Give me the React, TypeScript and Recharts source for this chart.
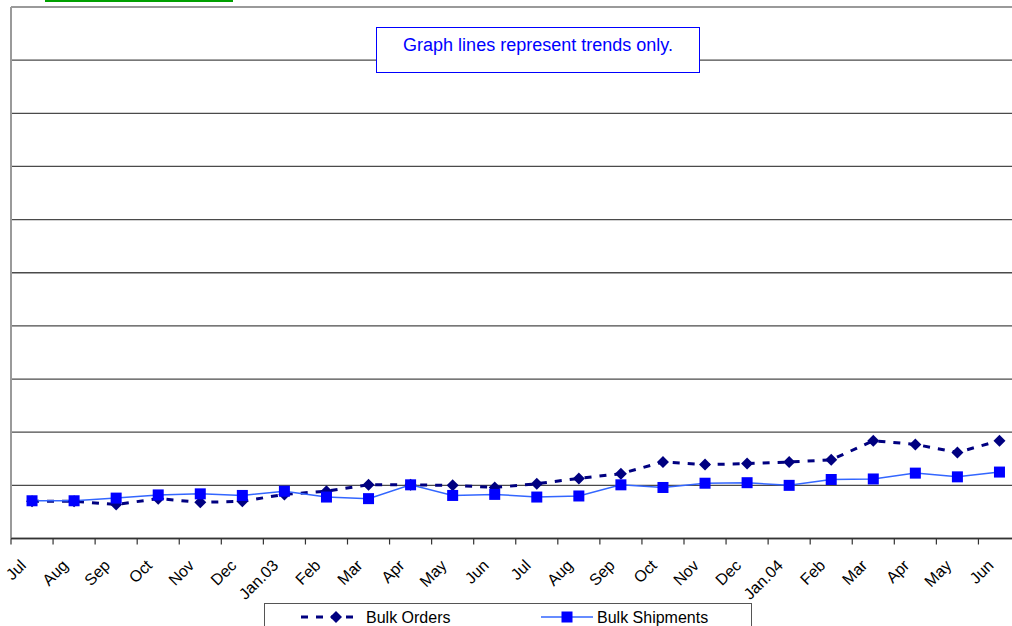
import React from "react";
import { LineChart, Line, XAxis, YAxis, CartesianGrid, ReferenceLine } from "recharts";

const months = [
  "Jul", "Aug", "Sep", "Oct", "Nov", "Dec", "Jan.03", "Feb", "Mar", "Apr", "May", "Jun",
  "Jul", "Aug", "Sep", "Oct", "Nov", "Dec", "Jan.04", "Feb", "Mar", "Apr", "May", "Jun",
];
const bulkOrders = [
  0.7, 0.7, 0.64, 0.75, 0.68, 0.7, 0.83, 0.89, 1.01, 1.01, 1.0, 0.96,
  1.03, 1.13, 1.22, 1.44, 1.39, 1.41, 1.44, 1.48, 1.84, 1.77, 1.62, 1.84,
];
const bulkShipments = [
  0.71, 0.71, 0.76, 0.82, 0.84, 0.81, 0.89, 0.78, 0.75, 1.01, 0.81, 0.83,
  0.78, 0.8, 1.01, 0.96, 1.04, 1.05, 1.0, 1.11, 1.12, 1.23, 1.16, 1.25,
];
const yTicks = [0, 1, 2, 3, 4, 5, 6, 7, 8, 9];
const xTicks = Array.from({ length: 25 }, (_, i) => i);

const data = months.map((m, i) => ({
  x: i + 0.5,
  month: m,
  orders: bulkOrders[i],
  shipments: bulkShipments[i],
}));

const CHART_W = 1032;
const CHART_H = 626;
const MARGIN = { top: 7, right: 11.5, left: 11, bottom: 0 };
const BAND = (CHART_W - MARGIN.left - MARGIN.right) / months.length;
const FONT = "'Liberation Sans', Arial, sans-serif";

function MonthTick(props: any) {
  const { x, y, payload } = props;
  const i = payload.value as number;
  const lx = x + BAND / 2 - 5;
  const ly = y + 28;
  return (
    <g>
      <line x1={x} x2={x} y1={y} y2={y + 6} stroke="#333" strokeWidth={1.2} />
      {i < months.length && (
        <text
          x={lx}
          y={ly}
          transform={`rotate(-45 ${lx} ${ly})`}
          textAnchor="end"
          fontSize={16}
          fontFamily={FONT}
          fill="#000"
        >
          {months[i]}
        </text>
      )}
    </g>
  );
}

function Diamond(props: any) {
  const { cx, cy, index } = props;
  if (cx == null || cy == null) return <g key={`d-${index}`} />;
  const r = 6;
  return (
    <polygon
      key={`d-${index}`}
      points={`${cx},${cy - r} ${cx + r},${cy} ${cx},${cy + r} ${cx - r},${cy}`}
      fill="#000080"
    />
  );
}

function Square(props: any) {
  const { cx, cy, index } = props;
  if (cx == null || cy == null) return <g key={`s-${index}`} />;
  const s = 11;
  return <rect key={`s-${index}`} x={cx - s / 2} y={cy - s / 2} width={s} height={s} fill="#0000ff" />;
}

export default function App() {
  return (
    <div
      style={{
        position: "absolute",
        left: 0,
        top: 0,
        width: 1012,
        height: 626,
        overflow: "hidden",
        background: "#fff",
        fontFamily: FONT,
      }}
    >
      <div style={{ position: "absolute", left: 45, top: 0, width: 188, height: 2, background: "#00a000" }} />
      <LineChart width={CHART_W} height={CHART_H} data={data} margin={MARGIN}>
        <CartesianGrid vertical={false} stroke="#4a4a4a" strokeWidth={1.3} />
        <XAxis
          type="number"
          dataKey="x"
          domain={[0, 24]}
          ticks={xTicks}
          interval={0}
          height={87.5}
          tickLine={false}
          tickSize={0}
          tickMargin={0}
          axisLine={{ stroke: "#333", strokeWidth: 1.5 }}
          tick={<MonthTick />}
        />
        <YAxis hide type="number" domain={[0, 10]} ticks={yTicks} />
        <ReferenceLine y={10} stroke="#9a9a9a" strokeWidth={2} />
        <ReferenceLine x={0} stroke="#9a9a9a" strokeWidth={2} />
        <Line
          dataKey="orders"
          stroke="#000080"
          strokeWidth={3}
          strokeDasharray="7 8"
          dot={Diamond}
          activeDot={false}
          isAnimationActive={false}
        />
        <Line
          dataKey="shipments"
          stroke="#3366ff"
          strokeWidth={1.5}
          dot={Square}
          activeDot={false}
          isAnimationActive={false}
        />
      </LineChart>

      <div
        style={{
          position: "absolute",
          left: 376,
          top: 27,
          width: 322,
          height: 37,
          border: "1.5px solid #0000ff",
          background: "#fff",
          color: "#0000ff",
          fontSize: 18,
          lineHeight: "20px",
          textAlign: "center",
          paddingTop: 7,
          boxSizing: "content-box",
        }}
      >
        Graph lines represent trends only.
      </div>

      <div
        style={{
          position: "absolute",
          left: 264,
          top: 603,
          width: 486,
          height: 40,
          border: "1.5px solid #555",
          background: "#fff",
        }}
      >
        <svg width={486} height={40} style={{ position: "absolute", left: 0, top: 0 }}>
          <line x1={36} x2={88} y1={13} y2={13} stroke="#000080" strokeWidth={3} strokeDasharray="7 8" />
          <polygon points="71,7 77,13 71,19 65,13" fill="#000080" />
          <line x1={276} x2={328} y1={13} y2={13} stroke="#3366ff" strokeWidth={1.5} />
          <rect x={296.5} y={7.5} width={11} height={11} fill="#0000ff" />
          <text x={101} y={19} fontSize={16} fontFamily={FONT} fill="#000">
            Bulk Orders
          </text>
          <text x={332} y={19} fontSize={16} fontFamily={FONT} fill="#000">
            Bulk Shipments
          </text>
        </svg>
      </div>
    </div>
  );
}
